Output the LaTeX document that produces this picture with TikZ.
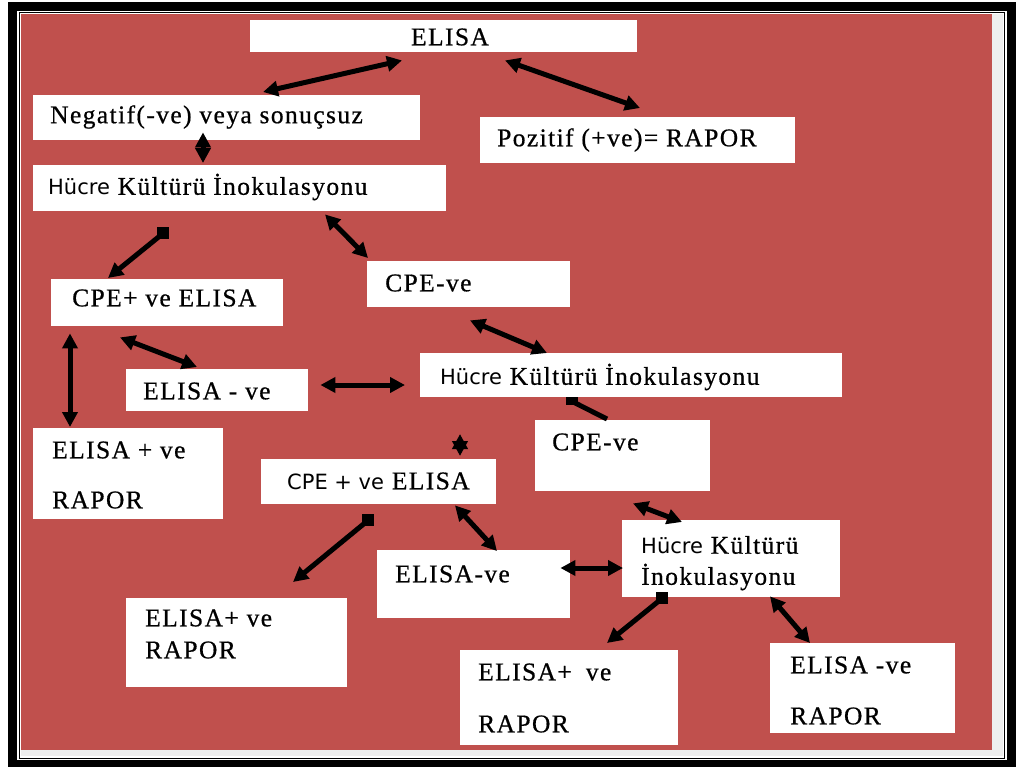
\documentclass[tikz,border=0pt]{standalone}
\usepackage{fontspec}
\setmainfont{Liberation Serif}[LetterSpace=5.5, FakeBold=0.6]
\newfontfamily\hsans{DejaVu Sans}
\usetikzlibrary{arrows.meta,calc}
\definecolor{bgred}{HTML}{C0504D}
\definecolor{strip}{HTML}{EEEEEE}
\tikzset{
  box/.style={fill=white, draw=none, anchor=north west, inner sep=0pt},
  txt/.style={anchor=west, inner sep=0pt, font=\fontsize{25.5}{29}\selectfont, text=black},
  dbl/.style={line width=5pt, arrows={Triangle[length=15pt,width=15pt]-Triangle[length=15pt,width=15pt]}},
  sqa/.style={line width=5pt, arrows={-Triangle[length=15pt,width=15pt]}},
  sqo/.style={line width=5pt},
  sqmark/.style={fill=black},
}
\newcommand{\hs}[1]{{\hsans\fontsize{21}{25}\selectfont #1}}
\begin{document}
\begin{tikzpicture}[x=1pt,y=-1pt]
\useasboundingbox (0,0) rectangle (1016,767);
\fill[white] (0,0) rectangle (1016,767);
\fill[black] (8,2) rectangle (1016,767);
\fill[white] (17,11) rectangle (1006.5,760);
\fill[black] (18.5,12.3) rectangle (1005.2,758.7);
\fill[white] (20,13.4) rectangle (1004,757.6);
\fill[strip] (21,14) rectangle (1003,756);
\fill[bgred] (21,14) rectangle (992,750);

% boxes
\node[box, minimum width=387pt, minimum height=32pt] (elisa) at (250,20) {};
\node[box, minimum width=387pt, minimum height=45pt] (neg) at (33,95) {};
\node[box, minimum width=315pt, minimum height=46pt] (poz) at (480,117) {};
\node[box, minimum width=413pt, minimum height=46pt] (huc1) at (33,165) {};
\node[box, minimum width=232pt, minimum height=47pt] (cpep1) at (51,279) {};
\node[box, minimum width=203pt, minimum height=46pt] (cpem1) at (367,261) {};
\node[box, minimum width=182pt, minimum height=42pt] (elm1) at (126,369) {};
\node[box, minimum width=422pt, minimum height=44pt] (huc2) at (420,353) {};
\node[box, minimum width=190pt, minimum height=91pt] (elp1) at (33,428) {};
\node[box, minimum width=175pt, minimum height=71pt] (cpem2) at (535,420) {};
\node[box, minimum width=235pt, minimum height=45pt] (cpep2) at (261,459) {};
\node[box, minimum width=218pt, minimum height=77pt] (huc3) at (622,520) {};
\node[box, minimum width=193pt, minimum height=68pt] (elm2) at (377,550) {};
\node[box, minimum width=221pt, minimum height=89pt] (elp2) at (126,598) {};
\node[box, minimum width=218pt, minimum height=95pt] (elp3) at (460,650) {};
\node[box, minimum width=185pt, minimum height=90pt] (elm3) at (770,643) {};

% texts
\node[txt, anchor=center] (t-elisa) at ($(elisa.north west)+(200,17)$) {ELISA};
\node[txt] (t-neg) at ($(neg.north west)+(17,22)$) {Negatif(-ve) veya sonuçsuz};
\node[txt] (t-poz) at ($(poz.north west)+(17,23)$) {Pozitif (+ve)= RAPOR};
\node[txt] (t-huc1) at ($(huc1.north west)+(15,22)$) {\hs{Hücre} Kültürü İnokulasyonu};
\node[txt] (t-cpep1) at ($(cpep1.north west)+(21,19)$) {CPE+ ve ELISA};
\node[txt] (t-cpem1) at ($(cpem1.north west)+(18,22)$) {CPE-ve};
\node[txt] (t-elm1) at ($(elm1.north west)+(17,22)$) {ELISA - ve};
\node[txt] (t-huc2) at ($(huc2.north west)+(20,24)$) {\hs{Hücre} Kültürü İnokulasyonu};
\node[txt] (t-elp1a) at ($(elp1.north west)+(19,22)$) {ELISA + ve};
\node[txt] (t-elp1b) at ($(elp1.north west)+(19,72)$) {RAPOR};
\node[txt] (t-cpem2) at ($(cpem2.north west)+(17,22)$) {CPE-ve};
\node[txt] (t-cpep2) at ($(cpep2.north west)+(26,22)$) {\hs{CPE + ve} ELISA};
\node[txt] (t-huc3a) at ($(huc3.north west)+(19,25)$) {\hs{Hücre} Kültürü};
\node[txt] (t-huc3b) at ($(huc3.north west)+(19,57)$) {İnokulasyonu};
\node[txt] (t-elm2) at ($(elm2.north west)+(18,24)$) {ELISA-ve};
\node[txt] (t-elp2a) at ($(elp2.north west)+(19,20)$) {ELISA+ ve};
\node[txt] (t-elp2b) at ($(elp2.north west)+(19,52)$) {RAPOR};
\node[txt] (t-elp3a) at ($(elp3.north west)+(18,22)$) {ELISA+\hspace{14pt}ve};
\node[txt] (t-elp3b) at ($(elp3.north west)+(18,74)$) {RAPOR};
\node[txt] (t-elm3a) at ($(elm3.north west)+(20,22)$) {ELISA -ve};
\node[txt] (t-elm3b) at ($(elm3.north west)+(20,73)$) {RAPOR};

% connectors
\draw[dbl] ($(neg.north west)+(230,-3)$) -- ($(elisa.south west)+(152,8)$);
\draw[dbl] ($(elisa.south west)+(255,8)$) -- ($(poz.north west)+(160,-9)$);
\draw[dbl] ($(neg.south west)+(170,-8)$) -- ($(huc1.north west)+(170,-2)$);
\draw[sqa] ($(huc1.south west)+(130,22)$) -- ($(cpep1.north west)+(57,-1)$);
\fill[sqmark] ($(huc1.south west)+(130,22)$) ++(-6,-6) rectangle ++(12,12);
\draw[dbl] ($(huc1.south west)+(292,3)$) -- ($(cpem1.north west)+(1,-3)$);
\draw[dbl] ($(cpep1.south west)+(19,7)$) -- ($(elp1.north west)+(37,-1)$);
\draw[dbl] ($(cpep1.south west)+(69,11)$) -- ($(elm1.north west)+(71,-2)$);
\draw[dbl] ($(elm1.north east)+(12,16)$) -- ($(huc2.north west)+(-15,32)$);
\draw[dbl] ($(cpem1.south west)+(103,13)$) -- ($(huc2.north west)+(127,0)$);
\draw[sqo] ($(huc2.south west)+(152,4)$) -- ($(cpem2.north west)+(72,-1)$);
\fill[sqmark] ($(huc2.south west)+(152,4)$) ++(-6,-4) rectangle ++(12,8);
\draw[dbl] ($(cpep2.north west)+(199,-25)$) -- ($(cpep2.north west)+(199,-3)$);
\draw[sqa] ($(cpep2.south west)+(107,16)$) -- ($(elp2.north west)+(167,-16)$);
\fill[sqmark] ($(cpep2.south west)+(107,16)$) ++(-6,-6) rectangle ++(12,12);
\draw[dbl] ($(cpep2.south west)+(194,1)$) -- ($(elm2.north west)+(120,1)$);
\draw[dbl] ($(cpem2.south west)+(98,12)$) -- ($(huc3.north west)+(60,2)$);
\draw[dbl] ($(elm2.north east)+(-10,18)$) -- ($(huc3.north west)+(1,48)$);
\draw[sqa] ($(huc3.south west)+(40,1)$) -- ($(elp3.north west)+(147,-7)$);
\fill[sqmark] ($(huc3.south west)+(40,1)$) ++(-6,-6) rectangle ++(12,12);
\draw[dbl] ($(huc3.south west)+(148,-1)$) -- ($(elm3.north west)+(40,0)$);
\end{tikzpicture}
\end{document}
